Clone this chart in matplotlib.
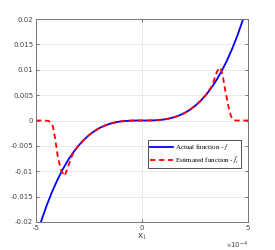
import numpy as np
import matplotlib
matplotlib.use("Agg")
import matplotlib.pyplot as plt

plt.rcParams["mathtext.fontset"] = "stix"

# x in units of 1e-4, y in units of 1e-3
x_act = [-4.8, -4.5, -4.25, -4.0, -3.75, -3.5, -3.25, -3.0, -2.75, -2.5, -2.25,
         -2.0, -1.75, -1.5, -1.25, -1.0, -0.75, -0.5, -0.25, 0.0,
         0.25, 0.5, 0.75, 1.0, 1.25, 1.5, 1.75, 2.0, 2.25, 2.5, 2.75,
         3.0, 3.25, 3.5, 3.75, 4.0, 4.25, 4.5, 4.8]
y_act = [-20.35, -16.77, -14.12, -11.78, -9.70, -7.89, -6.32, -4.97, -3.83, -2.88, -2.10,
         -1.47, -0.99, -0.62, -0.36, -0.18, -0.08, -0.02, 0.0, 0.0,
         0.0, 0.02, 0.08, 0.18, 0.36, 0.62, 0.99, 1.47, 2.10, 2.88, 3.83,
         4.97, 6.32, 7.89, 9.70, 11.78, 14.12, 16.77, 20.35]

x_est = [-5.0, -4.6, -4.4, -4.3, -4.2, -4.1, -3.96, -3.8, -3.65, -3.5, -3.35, -3.2,
         -3.0, -2.75, -2.5, -2.25, -2.0, -1.75, -1.5, -1.25, -1.0, -0.75, -0.5, -0.25, 0.0,
         0.25, 0.5, 0.75, 1.0, 1.25, 1.5, 1.75, 2.0, 2.25, 2.5, 2.75, 3.0, 3.25,
         3.4, 3.55, 3.7, 3.8, 3.9, 4.0, 4.1, 4.2, 4.3, 4.4, 5.0]
y_est = [0.0, 0.0, -0.1, -0.4, -1.2, -3.5, -7.5, -10.0, -10.9, -9.3, -7.4, -6.0,
         -4.97, -3.83, -2.88, -2.10, -1.47, -0.99, -0.62, -0.36, -0.18, -0.08, -0.02, 0.0, 0.0,
         0.0, 0.02, 0.08, 0.18, 0.36, 0.62, 0.99, 1.47, 2.10, 2.88, 3.83, 4.97, 6.5,
         8.0, 9.8, 10.4, 9.0, 6.5, 4.3, 2.3, 0.8, 0.1, 0.0, 0.0]

fig = plt.figure(figsize=(2.75, 2.5), dpi=100)
ax = fig.add_axes([0.131, 0.112, 0.771, 0.812])

ax.plot(np.array(x_act) * 1e-4, np.array(y_act) * 1e-3, color="#0000ff", lw=1.3,
        label="Actual function - $f$")
ax.plot(np.array(x_est) * 1e-4, np.array(y_est) * 1e-3, color="#ff0000", lw=1.3,
        ls=(0, (3, 2)), label=r"Estimated function - $\hat{f}_i$")

ax.set_xlim(-5e-4, 5e-4)
ax.set_ylim(-0.02, 0.02)
ax.set_xticks([-5e-4, 0, 5e-4])
ax.set_xticklabels(["-5", "0", "5"])
ax.set_yticks([-0.02, -0.015, -0.01, -0.005, 0, 0.005, 0.01, 0.015, 0.02])
ax.set_yticklabels(["-0.02", "-0.015", "-0.01", "-0.005", "0", "0.005", "0.01", "0.015", "0.02"])
ax.grid(True, color="#e6e6e6", lw=0.6)
ax.set_axisbelow(True)
ax.tick_params(direction="in", length=2.5, width=0.5, labelsize=5, colors="#444444",
               top=True, right=True, pad=2)
for s in ax.spines.values():
    s.set_color("#777777")
    s.set_linewidth(0.7)

ax.set_xlabel("x$_1$", fontsize=6, color="#444444", labelpad=1)
ax.text(1.0, -0.085, r"$\times\mathregular{10^{-4}}$", transform=ax.transAxes, ha="right",
        va="top", fontsize=5, color="#444444")

leg = ax.legend(loc="lower left", bbox_to_anchor=(0.53, 0.266),
                prop={"family": "Liberation Serif", "size": 5}, handlelength=3.2,
                borderpad=0.3, labelspacing=0.25, handletextpad=0.3, fancybox=False,
                framealpha=1, borderaxespad=0)
leg.get_frame().set_edgecolor("#333333")
leg.get_frame().set_linewidth(0.6)

fig.savefig("out.png", dpi=100)
